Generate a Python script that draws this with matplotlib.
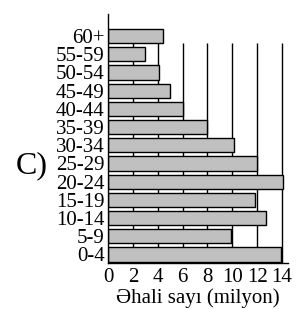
import matplotlib
matplotlib.use("Agg")
import matplotlib.pyplot as plt

plt.rcParams["font.family"] = ["Liberation Serif", "DejaVu Serif"]

groups = ["0-4", "5-9", "10-14", "15-19", "20-24", "25-29", "30-34",
          "35-39", "40-44", "45-49", "50-54", "55-59", "60+"]
population = [13.9, 9.9, 12.7, 11.8, 14.05, 12.0, 10.1,
              8.0, 6.0, 5.0, 4.1, 3.0, 4.4]
xticks = [0, 2, 4, 6, 8, 10, 12, 14]

fig = plt.figure(figsize=(3.0, 3.09), dpi=100)
ax = fig.add_axes([0.36, 0.150, 0.601, 0.804])

ypos = range(len(groups))
ax.vlines(xticks[1:], -0.45, 11.6, colors="black", linewidth=1.0, zorder=1)
ax.barh(ypos, population, height=0.78, color="#c0c0c0",
        edgecolor="black", linewidth=1.0, zorder=2)

ax.set_xlim(0, 14.5)
ax.set_ylim(-0.45, 13.2)
ax.set_yticks(list(ypos))
ax.set_yticklabels(groups, fontsize=15)
ax.set_xticks(xticks)
ax.set_xticklabels([str(t) for t in xticks], fontsize=15)
ax.tick_params(axis="y", length=0, pad=2.5)
ax.tick_params(axis="x", length=0, pad=3.5)

for s in ["top", "right"]:
    ax.spines[s].set_visible(False)
ax.spines["left"].set_linewidth(1.0)
ax.spines["bottom"].set_linewidth(1.0)

ax.set_xlabel("Əhali sayı (milyon)", fontsize=15, labelpad=1)
fig.text(0.053, 0.465, "C)", fontsize=23, va="center", ha="left")

fig.savefig("out.png", dpi=100)
